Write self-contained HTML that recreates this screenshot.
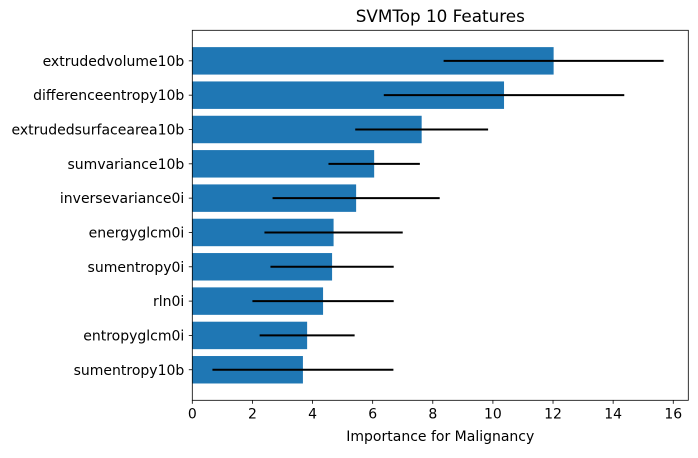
<!DOCTYPE html>
<html><head><meta charset="utf-8"><style>
body{margin:0;background:#fff;}
svg text{font-family:"DejaVu Sans","Liberation Sans",sans-serif;fill:#000;}
</style></head><body>
<svg id="chart" width="698" height="453" viewBox="0 0 698 453"></svg>
<script>
const categories=["extrudedvolume10b","differenceentropy10b","extrudedsurfacearea10b","sumvariance10b","inversevariance0i","energyglcm0i","sumentropy0i","rln0i","entropyglcm0i","sumentropy10b"];
const importance=[12.02,10.37,7.63,6.05,5.45,4.7,4.65,4.35,3.82,3.68];
const errors=[3.66,4.0,2.21,1.52,2.78,2.3,2.05,2.35,1.58,3.01];
const xTicks=[0,2,4,6,8,10,12,14,16];

const NS="http://www.w3.org/2000/svg";
const svg=document.getElementById('chart');
const L=192.3,R=688.3,T=30.3,B=400.3;
const xMax=16.5, yMin=-0.89, yMax=9.89;
const x=v=>L+v/xMax*(R-L);
const y=i=>{const idx=categories.length-1-i;return B-(idx-yMin)/(yMax-yMin)*(B-T);};
const step=(B-T)/(yMax-yMin);
function mk(tag,attrs,parent){const e=document.createElementNS(NS,tag);for(const k in attrs)e.setAttribute(k,attrs[k]);(parent||svg).appendChild(e);return e;}

const bars=mk('g',{});


categories.forEach((c,i)=>{
  const cy=y(i),h=step*0.8;
  const r=mk('rect',{x:L,y:cy-h/2,width:x(importance[i])-L,height:h,fill:'#1f77b4'},bars);
  
  
  const e=mk('line',{x1:x(importance[i]-errors[i]),x2:x(importance[i]+errors[i]),y1:cy,y2:cy,stroke:'#000','stroke-width':2},bars);
  
  
  const t=mk('line',{x1:L-3.5,x2:L,y1:cy,y2:cy,stroke:'#000','stroke-width':0.8});
  
  
  const lb=mk('text',{x:L-8,y:cy+5,'text-anchor':'end','font-size':14,textLength:0});
  lb.removeAttribute('textLength');
  lb.textContent=c;
  
  
});
xTicks.forEach(v=>{
  const t=mk('line',{x1:x(v),x2:x(v),y1:B,y2:B+3.5,stroke:'#000','stroke-width':0.8});
  
  
  const lb=mk('text',{x:x(v),y:B+18,'text-anchor':'middle','font-size':14});
  lb.textContent=v;
  
  
});
const fr=mk('rect',{x:L,y:T,width:R-L,height:B-T,fill:'none',stroke:'#000','stroke-width':0.8});


const xt=mk('text',{x:(L+R)/2,y:441,'text-anchor':'middle','font-size':14});
xt.textContent='Importance for Malignancy';


const tt=mk('text',{x:(L+R)/2,y:22,'text-anchor':'middle','font-size':16.8});
tt.textContent='SVMTop 10 Features';


</script>
</body></html>
